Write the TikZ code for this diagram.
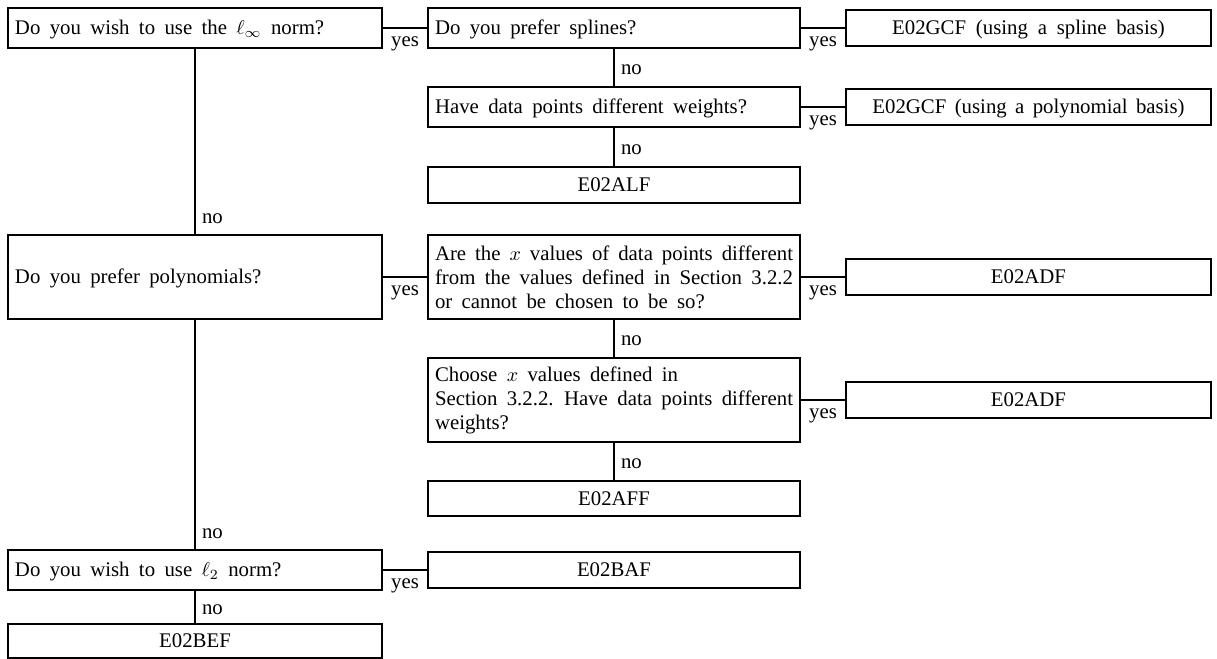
\documentclass[tikz,border=0pt]{standalone}
\usepackage{fontspec}
\setmainfont{Liberation Serif}
\newcommand\widespaces{\spaceskip=4.68pt plus 2.6pt minus 1.56pt\relax}
\newcommand\midspaces{\spaceskip=3.5pt plus 1.5pt minus 1pt\relax}
\begin{document}
\begin{tikzpicture}[x=0.5pt,y=-0.5pt, line width=1.05pt,
  every node/.style={font=\fontsize{10.4}{12}\selectfont, execute at begin node=\widespaces},
  box/.style={draw, rectangle, inner xsep=3.5pt, inner ysep=0pt, line width=1.05pt},
  lcol/.style={box, text width=180pt, align=left},
  mcol/.style={box, text width=179pt, align=left},
  rcol/.style={box, text width=175.5pt, align=center, execute at begin node=\midspaces},
  one/.style={text height=7pt, text depth=0.5pt},
  yeslab/.style={midway, anchor=base, yshift=-9.25pt, inner sep=0pt},
  nomid/.style={midway, anchor=base west, xshift=3pt, yshift=-3.5pt, inner sep=0pt},
  noend/.style={pos=1, anchor=base west, xshift=3pt, yshift=5.25pt, inner sep=0pt},
]
\useasboundingbox (0,0) rectangle (1217,659);
% left column
\node[lcol, one, minimum height=20pt] (A) at (195,28) {Do you wish to use the $\ell_\infty$ norm?};
\node[lcol, one, minimum height=42pt] (G) at (195,277) {Do you prefer polynomials?};
\node[lcol, one, minimum height=20pt] (M) at (195,570) {Do you wish to use $\ell_2$ norm?};
\node[box, text width=180pt, align=center, one, minimum height=17pt] (O) at (195,641) {E02BEF};
% middle column
\node[mcol, one, minimum height=20pt] (B) at (614,28) {Do you prefer splines?};
\node[mcol, one, minimum height=20pt] (D) at (614,107) {Have data points different weights?};
\node[box, text width=179pt, align=center, one, minimum height=18pt] (F) at (614,185) {E02ALF};
\node[mcol, minimum height=42pt] (H) at (614,277) {\makebox[179pt][s]{Are the $x$ values of data points different}\\\makebox[179pt][s]{from the values defined in Section 3.2.2}\\or cannot be chosen to be so?};
\node[mcol, minimum height=42pt] (J) at (614,400) {Choose $x$ values defined in\\\makebox[179pt][s]{Section 3.2.2. Have data points different}\\weights?};
\node[box, text width=179pt, align=center, one, minimum height=17.5pt] (L) at (614,498.5) {E02AFF};
\node[box, text width=179pt, align=center, one, minimum height=18pt] (N) at (614,570) {E02BAF};
% right column
\node[rcol, one, minimum height=18pt] (C) at (1028.5,28) {E02GCF (using a spline basis)};
\node[rcol, one, minimum height=18pt] (E) at (1028.5,107) {E02GCF (using a polynomial basis)};
\node[rcol, one, minimum height=18pt] (I) at (1028.5,277) {E02ADF};
\node[rcol, one, minimum height=18pt] (K) at (1028.5,400) {E02ADF};
% connectors
\draw (A.east) -- (A.east -| B.west) node[yeslab]{yes};
\draw (B.east) -- (B.east -| C.west) node[yeslab]{yes};
\draw (B.south) -- (B.south |- D.north) node[nomid]{no};
\draw (D.east) -- (D.east -| E.west) node[yeslab]{yes};
\draw (D.south) -- (D.south |- F.north) node[nomid]{no};
\draw (A.south) -- (A.south |- G.north) node[noend]{no};
\draw (G.east) -- (G.east -| H.west) node[yeslab]{yes};
\draw (H.east) -- (H.east -| I.west) node[yeslab]{yes};
\draw (H.south) -- (H.south |- J.north) node[nomid]{no};
\draw (J.east) -- (J.east -| K.west) node[yeslab]{yes};
\draw (J.south) -- (J.south |- L.north) node[nomid]{no};
\draw (G.south) -- (G.south |- M.north) node[noend]{no};
\draw (M.east) -- (M.east -| N.west) node[yeslab]{yes};
\draw (M.south) -- (M.south |- O.north) node[nomid]{no};
\end{tikzpicture}
\end{document}
